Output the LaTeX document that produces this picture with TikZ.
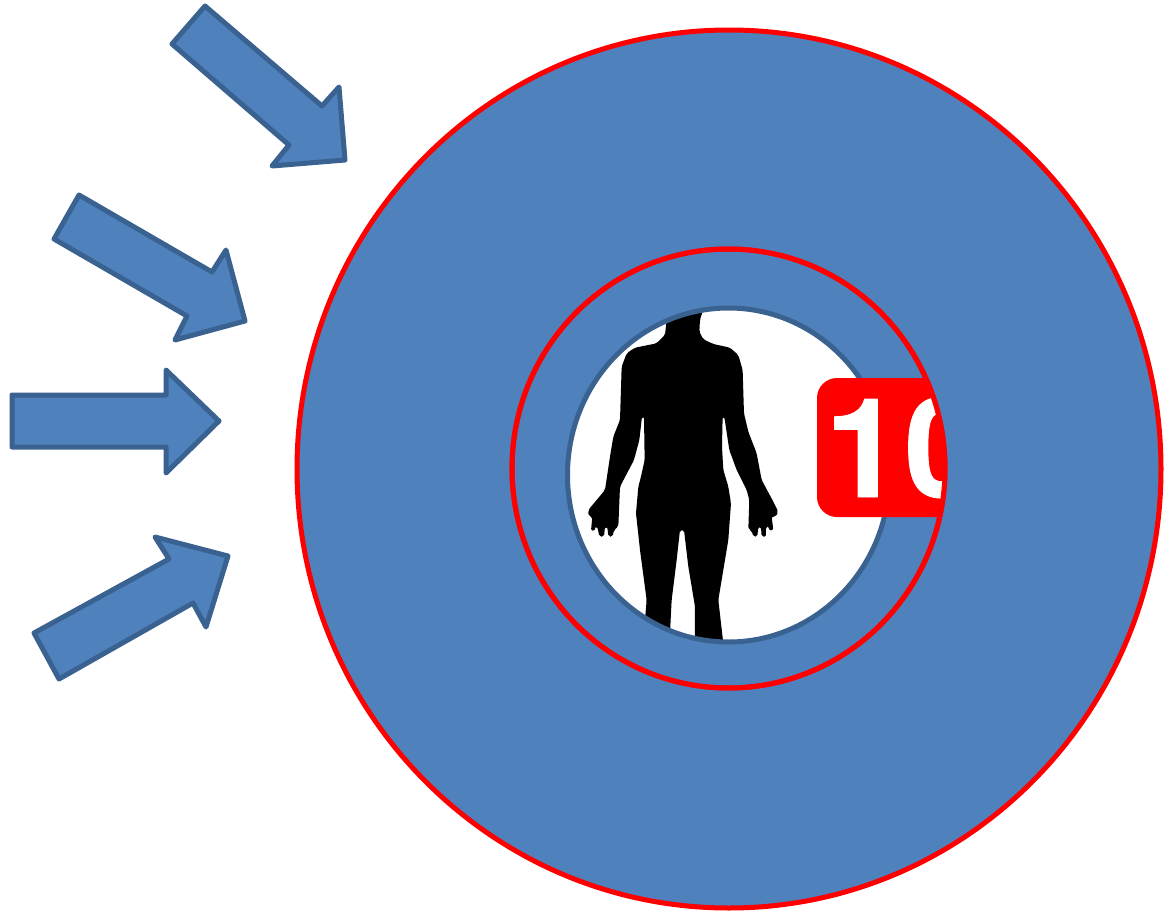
\documentclass[tikz,border=0pt]{standalone}
\usepackage{fontspec}
\setmainfont{Liberation Sans}
\newfontfamily\badgefont[UprightFont={* Bold},LetterSpace=2,FakeBold=0.6]{TeX Gyre Heros}
\definecolor{fillblue}{HTML}{4F81BD}
\definecolor{edgeblue}{HTML}{3A6291}
\tikzset{
  disc/.style={draw=red,fill=fillblue,line width=5pt},
  arrowshape/.style={draw=edgeblue,fill=fillblue,line width=5pt,line join=round},
}
\begin{document}
\begin{tikzpicture}[x=1pt,y=-1pt]
\useasboundingbox (0,0) rectangle (1171,913);
% arrows
\draw[arrowshape] (205,6)--(322,106)--(339,87)--(345,160)--(272,166)--(289,145)--(172,44)--cycle;
\draw[arrowshape] (79,195)--(212,272)--(226,250)--(245,321)--(175,340)--(187,316)--(54,239)--cycle;
\draw[arrowshape] (12,395)--(166,395)--(166,370)--(219,421)--(166,473)--(166,447)--(12,447)--cycle;
\draw[arrowshape] (34,633)--(169,559)--(155,537)--(228,556)--(206,627)--(193,603)--(59,679)--cycle;
% discs
\draw[disc] (729,469) ellipse [x radius=432,y radius=439];
\draw[disc] (728.5,468.5) ellipse [x radius=216.5,y radius=219.5];
% inner window
\fill[white] (728.5,475) ellipse [x radius=161,y radius=167];
\begin{scope}
\clip (728.5,475) ellipse [x radius=161,y radius=167];
\begin{scope}[shift={(560,300)},x=0.3333pt,y=-0.3333pt]
\fill[black,rounded corners=2pt]
 (432,20)--(420,60)--(418,95)--(430,118)--(460,132)--(510,143)--(535,165)--(548,210)--(552,340)--(565,395)
 --(590,460)--(605,540)--(640,605)--(655,635)--(648,650)--(635,650)--(640,690)--(628,692)--(625,678)--(618,680)
 --(618,710)--(605,710)--(603,680)--(595,680)--(592,710)--(580,710)--(575,692)--(565,688)
 --(568,600)--(560,570)--(530,510)--(508,450)--(493,350)--(488,350)
 --(486,440)--(490,510)--(505,560)--(513,610)--(505,720)--(490,810)--(475,900)--(490,1030)--(405,1030)--(405,920)
 --(385,800)--(372,690)--(360,690)--(350,780)--(335,900)--(330,1000)--(255,960)--(260,900)--(240,750)--(228,640)
 --(235,560)--(243,530)--(254,480)--(252,350)--(246,350)--(238,420)--(222,480)--(180,560)--(175,680)--(162,690)--(158,710)
 --(145,710)--(142,680)--(135,680)--(132,710)--(118,710)--(112,680)--(105,680)--(105,692)--(93,692)--(97,650)
 --(85,648)--(85,630)--(135,570)--(150,470)--(160,410)
 --(180,360)--(185,200)--(200,160)--(225,143)--(290,130)--(315,105)--(320,60)--(320,20)--cycle;
\end{scope}
\end{scope}
\draw[edgeblue,line width=5pt] (728.5,475) ellipse [x radius=161,y radius=167];
% badge
\begin{scope}
\clip (728.5,468.5) ellipse [x radius=216.5,y radius=219.5];
\fill[red,rounded corners=20pt] (817,378) rectangle (1000,517);
\node[anchor=base west,inner sep=0pt,text=white,font=\badgefont\fontsize{138}{138}\selectfont] (badge) at (825,497) {10};
\end{scope}
\draw[red,line width=5pt] (728.5,468.5) ellipse [x radius=216.5,y radius=219.5];
\end{tikzpicture}
\end{document}
